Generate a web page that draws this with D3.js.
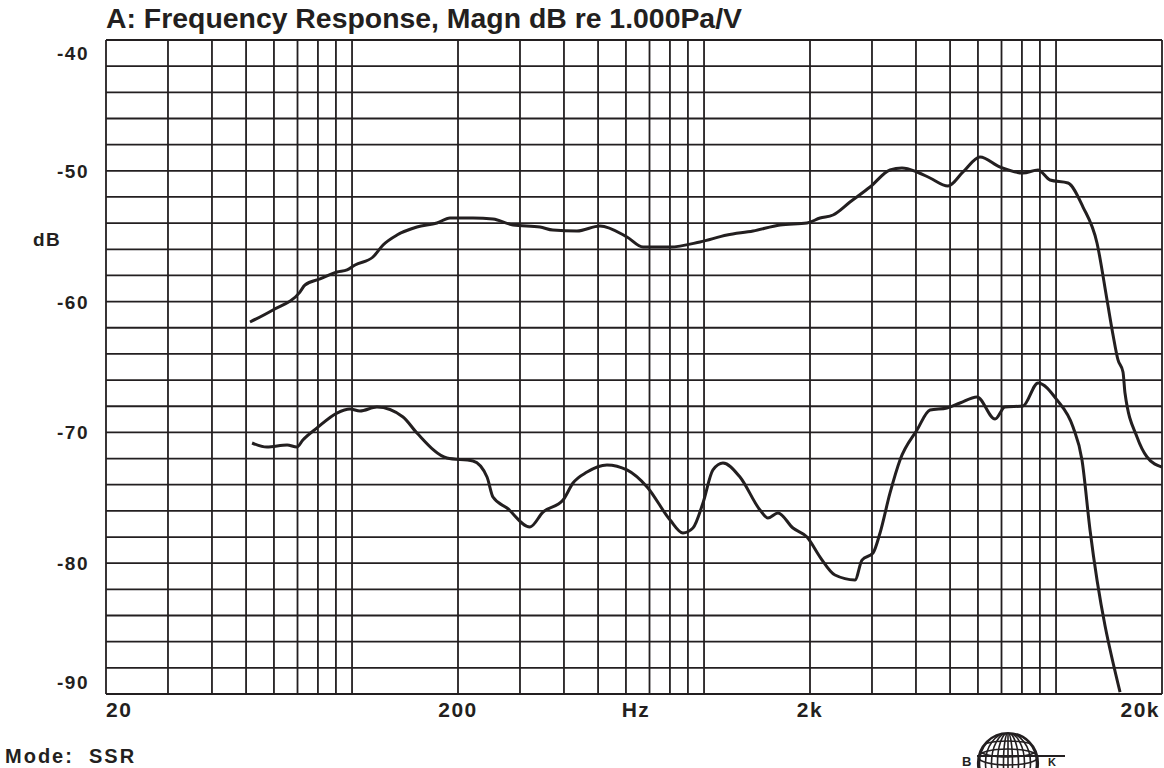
<!DOCTYPE html>
<html>
<head>
<meta charset="utf-8">
<script src="https://cdn.jsdelivr.net/npm/d3@7"></script>
<style>
  html, body { margin: 0; padding: 0; background: #fff; }
  text { font-family: "Liberation Sans", Arial, sans-serif; font-weight: bold; fill: #231f20; }
</style>
</head>
<body>
<div id="chart"></div>
<script>
// Upper trace (frequency in Hz, level in dB)
const freqUpper = [51.3, 59.6, 71.1, 73.5, 81.1, 90.6, 96.8, 102, 114.7, 122.5, 134.2, 152.9, 174.3, 189.8, 220.6, 251.4, 286.6, 342, 372, 435.6, 506, 604, 671, 801, 974, 1162, 1378, 1644, 1961, 2136, 2325, 2598, 2962, 3376, 3650, 4027, 4386, 4932, 5442, 6081, 6932, 8056, 8888, 9614, 10814, 11930, 13072, 13960, 14518, 14998, 15496, 15700, 16984, 18134, 20000];
const dbUpper = [-61.56, -60.64, -59.27, -58.73, -58.27, -57.74, -57.58, -57.2, -56.59, -55.67, -54.91, -54.3, -53.99, -53.61, -53.61, -53.69, -54.14, -54.3, -54.53, -54.6, -54.22, -55.06, -55.83, -55.83, -55.44, -54.91, -54.6, -54.14, -53.99, -53.61, -53.38, -52.39, -51.24, -49.94, -49.79, -50.09, -50.55, -51.16, -50.09, -48.94, -49.71, -50.17, -49.94, -50.7, -50.93, -52.77, -55.52, -59.88, -62.55, -64.46, -65.38, -66.99, -70.35, -71.88, -72.65];

// Lower trace
const freqLower = [52, 57.3, 65.4, 69.7, 72.5, 79.5, 90.6, 98.7, 105.3, 117.7, 139.6, 152.9, 186.1, 220.6, 241.8, 251.4, 275.6, 320.2, 348.7, 397.6, 424.4, 465.2, 530, 604, 689, 801, 871, 930, 993, 1060, 1132, 1265, 1442, 1519, 1622, 1789, 1961, 2136, 2355, 2684, 2810, 3020, 3162, 3376, 3604, 4027, 4386, 4900, 5335, 5962, 6710, 7161, 8056, 8888, 10063, 11175, 11850, 12490, 15200];
const dbLower = [-70.81, -71.12, -70.96, -71.12, -70.58, -69.66, -68.52, -68.21, -68.36, -68.06, -68.82, -70.05, -71.96, -72.19, -73.41, -74.94, -75.78, -77.23, -76.09, -75.17, -73.87, -73.03, -72.49, -72.87, -74.17, -76.7, -77.69, -77.31, -75.4, -72.87, -72.34, -73.41, -75.93, -76.54, -76.16, -77.31, -78.0, -79.53, -80.9, -81.28, -79.76, -79.22, -77.69, -74.63, -72.11, -69.82, -68.29, -68.13, -67.75, -67.29, -68.98, -68.06, -67.98, -66.22, -67.52, -69.59, -72.11, -77.46, -89.85];

// Axis labels
const yTickValues = [-40, -50, -60, -70, -80, -90];
const xTickValues = [20, 200, 2000, 20000];
const xTickLabels = ['20', '200', '2k', '20k'];

const width = 1164, height = 768;
const plot = {left: 106, right: 1162, top: 40, bottom: 694};
const ink = '#231f20';

const svg = d3.select('#chart').append('svg')
  .attr('width', width)
  .attr('height', height);

const x = d3.scaleLog().domain([20, 20000]).range([plot.left, plot.right]);
const y = d3.scaleLinear().domain([-90, -40]).range([plot.bottom, plot.top]);

// Log grid: 20..100, 200..1000, 2k..10k, 20k
const vLines = [];
[10, 100, 1000].forEach(dec => {
  for (let m = 2; m <= 10; m++) vLines.push(m * dec);
});
vLines.push(20000);
const hLines = d3.range(-90, -39, 2);

const grid = svg.append('g');
grid.selectAll('.v')
  .data(vLines)
  .enter().append('line')
  .attr('x1', d => x(d)).attr('x2', d => x(d))
  .attr('y1', plot.top).attr('y2', plot.bottom)
  .attr('stroke', ink).attr('stroke-width', 1.8);
grid.selectAll('.h')
  .data(hLines)
  .enter().append('line')
  .attr('x1', plot.left).attr('x2', plot.right)
  .attr('y1', d => y(d)).attr('y2', d => y(d))
  .attr('stroke', ink).attr('stroke-width', 1.8);

// Traces
const line = d3.line()
  .x(d => x(d[0]))
  .y(d => y(d[1]))
  .curve(d3.curveMonotoneX);

[[freqUpper, dbUpper], [freqLower, dbLower]].forEach(([f, v]) => {
  svg.append('path')
    .datum(f.map((d, i) => [d, v[i]]))
    .attr('d', line)
    .attr('fill', 'none')
    .attr('stroke', ink)
    .attr('stroke-width', 3)
    .attr('stroke-linejoin', 'round');
});

// Y labels (end ones pulled inside the plot range)
svg.selectAll('.ylab')
  .data(yTickValues)
  .enter().append('text')
  .attr('x', 89)
  .attr('y', d => Math.min(Math.max(y(d), 53), 682) + 7)
  .attr('text-anchor', 'end')
  .style('font-size', '19px')
  .style('letter-spacing', '1.5px')
  .text(d => d);

svg.append('text')
  .attr('x', 33).attr('y', 246)
  .style('font-size', '19px')
  .style('letter-spacing', '1.5px')
  .text('dB');

// X labels
svg.selectAll('.xlab')
  .data(xTickValues)
  .enter().append('text')
  .attr('x', (d, i) => i === 3 ? x(d) - 2 : x(d))
  .attr('y', 717)
  .attr('text-anchor', (d, i) => i === 0 ? 'start' : i === 3 ? 'end' : 'middle')
  .style('font-size', '21px')
  .style('letter-spacing', '1.5px')
  .text((d, i) => xTickLabels[i]);

svg.append('text')
  .attr('x', 636).attr('y', 717)
  .attr('text-anchor', 'middle')
  .style('font-size', '21px')
  .style('letter-spacing', '1.5px')
  .text('Hz');

// Title
svg.append('text')
  .attr('x', 106).attr('y', 28)
  .attr('textLength', 636)
  .attr('lengthAdjust', 'spacingAndGlyphs')
  .style('font-family', '"Liberation Sans Narrow", "Arial Narrow", "Liberation Sans", sans-serif')
  .style('font-size', '27px')
  .text('A: Frequency Response, Magn dB re 1.000Pa/V');

// Footer
svg.append('text')
  .attr('x', 5).attr('y', 763)
  .style('font-size', '20px')
  .style('letter-spacing', '2px')
  .style('white-space', 'pre')
  .text('Mode:  SSR');

// B&K globe mark
const logo = svg.append('g');
const gx = 1008, gy = 763, gr = 30;
logo.append('clipPath').attr('id', 'globe')
  .append('circle').attr('cx', gx).attr('cy', gy).attr('r', gr);
const globe = logo.append('g').attr('clip-path', 'url(#globe)');
[0.15, 0.35, 0.55, 0.75, 0.95].forEach(k => {
  globe.append('ellipse')
    .attr('cx', gx).attr('cy', gy)
    .attr('rx', gr * k).attr('ry', gr)
    .attr('fill', 'none').attr('stroke', ink).attr('stroke-width', 1.6);
});
globe.append('line')
  .attr('x1', gx).attr('x2', gx).attr('y1', gy - gr).attr('y2', gy + gr)
  .attr('stroke', ink).attr('stroke-width', 1.6);
[-22, -14].forEach(dy => {
  globe.append('ellipse')
    .attr('cx', gx).attr('cy', gy + dy + 8)
    .attr('rx', gr).attr('ry', 8)
    .attr('fill', 'none').attr('stroke', ink).attr('stroke-width', 1.6);
});
logo.append('circle')
  .attr('cx', gx).attr('cy', gy).attr('r', gr)
  .attr('fill', 'none').attr('stroke', ink).attr('stroke-width', 2.2);
logo.append('line')
  .attr('x1', 977).attr('x2', 1065).attr('y1', 756).attr('y2', 756)
  .attr('stroke', ink).attr('stroke-width', 2);
logo.append('text')
  .attr('x', 962).attr('y', 766)
  .style('font-size', '13px')
  .text('B');
logo.append('text')
  .attr('x', 1048).attr('y', 766)
  .style('font-size', '11px')
  .text('K');
</script>
</body>
</html>
